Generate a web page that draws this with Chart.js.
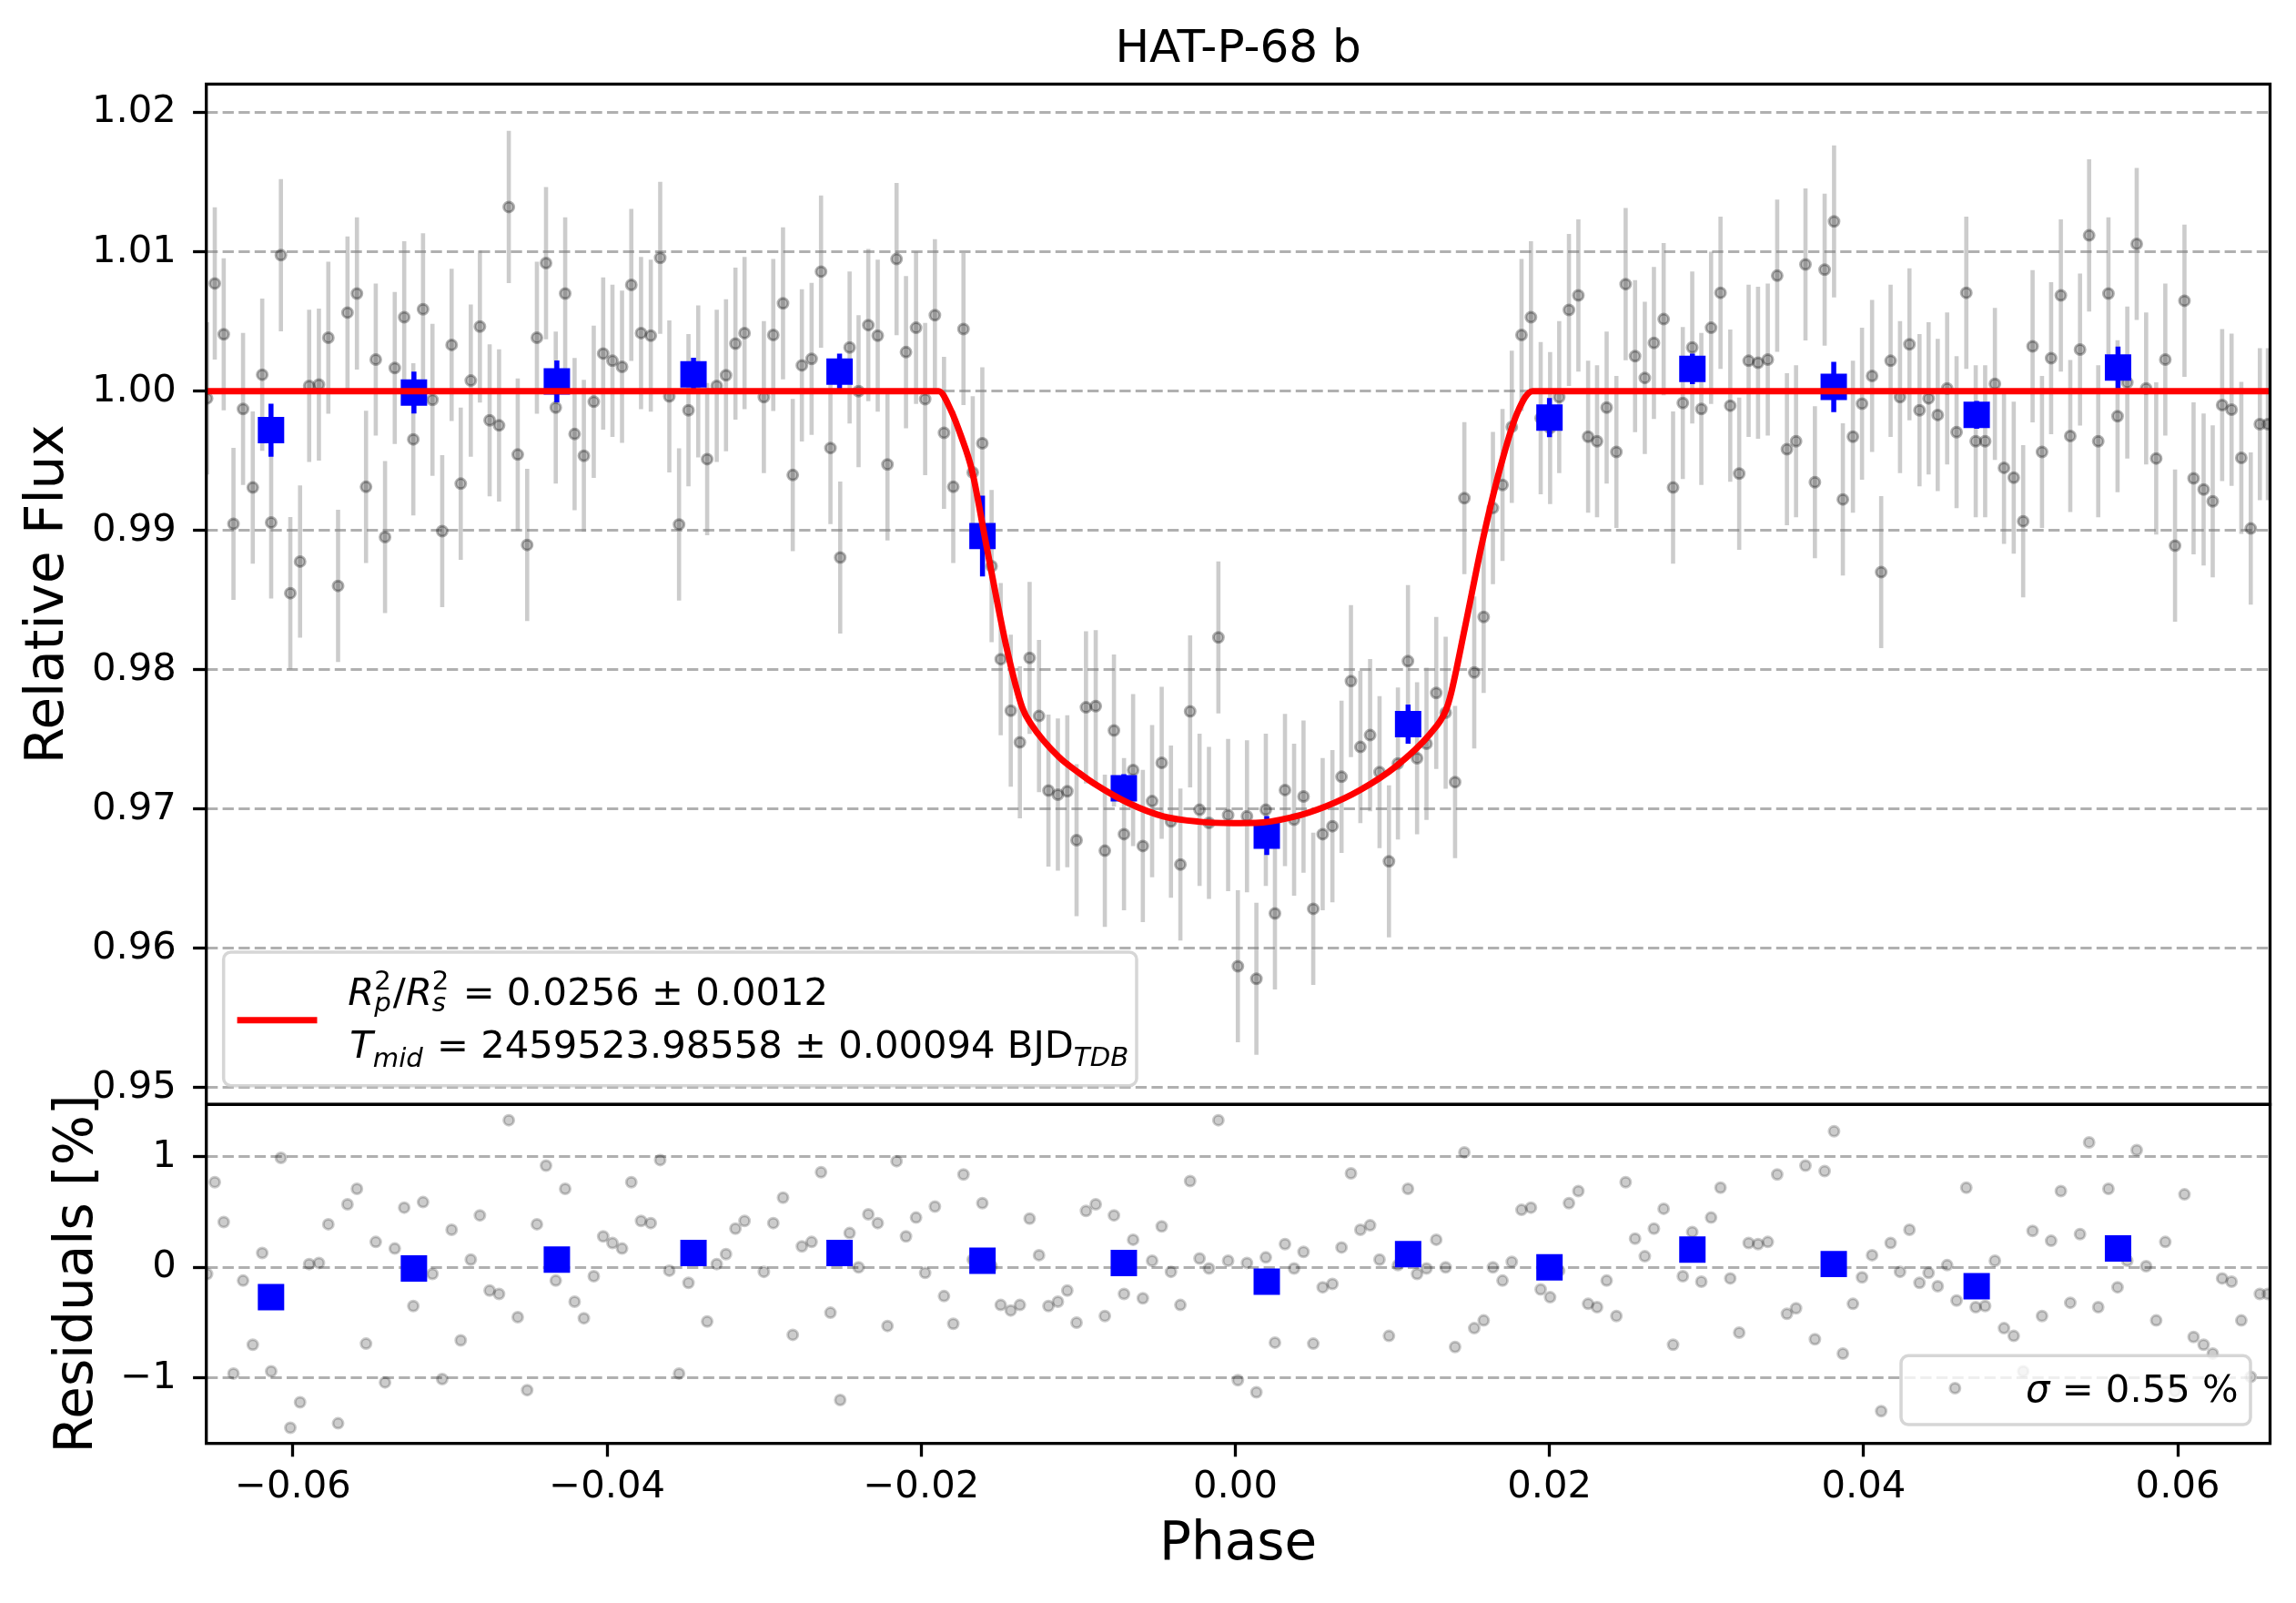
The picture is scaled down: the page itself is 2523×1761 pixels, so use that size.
<!DOCTYPE html>
<html>
<head>
<meta charset="utf-8">
<script src="https://cdn.jsdelivr.net/npm/chart.js@4.4.1/dist/chart.umd.min.js"></script>
<style>
  html, body { margin: 0; padding: 0; background: #fff; }
  #wrap { position: relative; width: 2523px; height: 1761px; overflow: hidden; }
  canvas { position: absolute; left: 0; }
  #top { top: 0; }
  #bottom { top: 1150px; }
</style>
</head>
<body>
<div id="wrap">
  <canvas id="top" width="2523" height="1264"></canvas>
  <canvas id="bottom" width="2523" height="611"></canvas>
</div>
<script>
// phase of every exposure
const phase = [
  -0.06547, -0.06498, -0.06441, -0.06379, -0.06318, -0.06256, -0.06196, -0.06139, -0.06077, -0.06017,
  -0.05955, -0.05897, -0.05835, -0.05775, -0.05713, -0.05653, -0.05593, -0.05535, -0.05473, -0.05414,
  -0.05352, -0.05292, -0.05234, -0.05172, -0.05112, -0.05050, -0.04990, -0.04932, -0.04868, -0.04810,
  -0.04748, -0.04688, -0.04626, -0.04569, -0.04509, -0.04447, -0.04389, -0.04327, -0.04267, -0.04207,
  -0.04148, -0.04085, -0.04025, -0.03966, -0.03905, -0.03846, -0.03784, -0.03722, -0.03662, -0.03604,
  -0.03542, -0.03482, -0.03420, -0.03363, -0.03302, -0.03243, -0.03183, -0.03125, -0.03002, -0.02942,
  -0.02880, -0.02818, -0.02760, -0.02698, -0.02638, -0.02578, -0.02516, -0.02456, -0.02399, -0.02337,
  -0.02277, -0.02215, -0.02157, -0.02097, -0.02033, -0.01975, -0.01913, -0.01855, -0.01796, -0.01731,
  -0.01672, -0.01611, -0.01552, -0.01494, -0.01430, -0.01372, -0.01310, -0.01250, -0.01190, -0.01130,
  -0.01070, -0.01011, -0.00951, -0.00889, -0.00831, -0.00773, -0.00709, -0.00651, -0.00589, -0.00530,
  -0.00469, -0.00410, -0.00350, -0.00288, -0.00228, -0.00168, -0.00108, -0.00046, 0.00016, 0.00074,
  0.00134, 0.00194, 0.00252, 0.00316, 0.00374, 0.00434, 0.00496, 0.00556, 0.00618, 0.00676,
  0.00736, 0.00796, 0.00858, 0.00918, 0.00978, 0.01035, 0.01099, 0.01157, 0.01217, 0.01279,
  0.01339, 0.01399, 0.01458, 0.01521, 0.01581, 0.01640, 0.01701, 0.01760, 0.01822, 0.01882,
  0.01944, 0.02004, 0.02062, 0.02124, 0.02184, 0.02246, 0.02303, 0.02364, 0.02426, 0.02485,
  0.02545, 0.02607, 0.02665, 0.02727, 0.02787, 0.02849, 0.02909, 0.02967, 0.03029, 0.03089,
  0.03151, 0.03208, 0.03268, 0.03328, 0.03390, 0.03450, 0.03512, 0.03570, 0.03630, 0.03690,
  0.03752, 0.03812, 0.03868, 0.03932, 0.03990, 0.04054, 0.04112, 0.04172, 0.04232, 0.04292,
  0.04356, 0.04414, 0.04472, 0.04532, 0.04592, 0.04654, 0.04714, 0.04774, 0.04836, 0.04894,
  0.04956, 0.05016, 0.05076, 0.05136, 0.05194, 0.05256, 0.05316, 0.05378, 0.05436, 0.05494,
  0.05559, 0.05617, 0.05679, 0.05739, 0.05799, 0.05863, 0.05921, 0.05983, 0.06043, 0.06101,
  0.06165, 0.06223, 0.06283, 0.06343, 0.06405, 0.06465, 0.06523, 0.06574
];

// detrended relative flux
const flux = [
  0.99948, 1.00773, 1.00408, 0.99047, 0.99872, 0.99308, 1.00118, 0.99057, 1.00976, 0.98550,
  0.98777, 1.00038, 1.00047, 1.00384, 0.98602, 1.00564, 1.00701, 0.99313, 1.00227, 0.98953,
  1.00166, 1.00531, 0.99654, 1.00588, 0.99938, 0.98995, 1.00332, 0.99336, 1.00076, 1.00464,
  0.99791, 0.99754, 1.01322, 0.99545, 0.98896, 1.00384, 1.00919, 0.99882, 1.00701, 0.99692,
  0.99536, 0.99924, 1.00270, 1.00218, 1.00175, 1.00763, 1.00417, 1.00398, 1.00957, 0.99962,
  0.99043, 0.99863, 1.00070, 0.99512, 1.00038, 1.00114, 1.00341, 1.00417, 0.99957, 1.00403,
  1.00630, 0.99398, 1.00185, 1.00232, 1.00858, 0.99592, 0.98806, 1.00313, 1.00000, 1.00474,
  1.00398, 0.99474, 1.00948, 1.00280, 1.00455, 0.99943, 1.00545, 0.99701, 0.99313, 1.00446,
  0.99417, 0.99626, 0.98744, 0.98076, 0.97706, 0.97479, 0.98085, 0.97668, 0.97133, 0.97104,
  0.97128, 0.96777, 0.97730, 0.97739, 0.96701, 0.97564, 0.96820, 0.97280, 0.96735, 0.97057,
  0.97332, 0.96910, 0.96602, 0.97701, 0.96995, 0.96901, 0.98232, 0.96957, 0.95872, 0.96948,
  0.95782, 0.96995, 0.96251, 0.97137, 0.96924, 0.97090, 0.96284, 0.96820, 0.96877, 0.97232,
  0.97919, 0.97446, 0.97531, 0.97265, 0.96625, 0.97327, 0.98062, 0.97365, 0.97469, 0.97834,
  0.97692, 0.97194, 0.99232, 0.97981, 0.98379, 0.99161, 0.99327, 0.99744, 1.00403, 1.00531,
  0.99806, 0.99735, 0.99957, 1.00583, 1.00687, 0.99673, 0.99640, 0.99882, 0.99564, 1.00768,
  1.00251, 1.00095, 1.00346, 1.00517, 0.99308, 0.99915, 1.00313, 0.99872, 1.00455, 1.00706,
  0.99896, 0.99408, 1.00218, 1.00204, 1.00227, 1.00829, 0.99583, 0.99640, 1.00910, 0.99346,
  1.00872, 1.01218, 0.99223, 0.99673, 0.99910, 1.00109, 0.98701, 1.00218, 0.99957, 1.00336,
  0.99863, 0.99948, 0.99829, 1.00019, 0.99706, 1.00706, 0.99640, 0.99640, 1.00052, 0.99450,
  0.99379, 0.99066, 1.00322, 0.99564, 1.00237, 1.00687, 0.99678, 1.00299, 1.01118, 0.99640,
  1.00701, 0.99820, 1.00062, 1.01057, 1.00019, 0.99517, 1.00227, 0.98891, 1.00649, 0.99374,
  0.99294, 0.99209, 0.99900, 0.99867, 0.99521, 0.99014, 0.99763, 0.99763
];
const fluxErr = 0.00546; // every exposure has the same error bar

// residuals in percent
const residual = [
  -0.06, 0.77, 0.41, -0.96, -0.12, -0.70, 0.13, -0.94, 0.99, -1.45,
  -1.22, 0.03, 0.04, 0.39, -1.41, 0.57, 0.71, -0.69, 0.23, -1.04,
  0.17, 0.54, -0.35, 0.59, -0.06, -1.01, 0.34, -0.66, 0.07, 0.47,
  -0.21, -0.24, 1.33, -0.45, -1.11, 0.39, 0.92, -0.12, 0.71, -0.31,
  -0.46, -0.08, 0.28, 0.22, 0.17, 0.77, 0.42, 0.40, 0.97, -0.03,
  -0.96, -0.14, 0.07, -0.49, 0.03, 0.12, 0.35, 0.42, -0.04, 0.40,
  0.63, -0.61, 0.19, 0.23, 0.86, -0.41, -1.20, 0.31, 0.00, 0.48,
  0.40, -0.53, 0.96, 0.28, 0.45, -0.05, 0.55, -0.26, -0.51, 0.84,
  0.07, 0.58, 0.01, -0.34, -0.39, -0.34, 0.44, 0.11, -0.35, -0.31,
  -0.21, -0.50, 0.51, 0.57, -0.44, 0.47, -0.24, 0.25, -0.28, 0.06,
  0.37, -0.04, -0.34, 0.78, 0.08, -0.01, 1.33, 0.06, -1.02, 0.04,
  -1.13, 0.09, -0.68, 0.21, -0.01, 0.14, -0.69, -0.18, -0.15, 0.18,
  0.85, 0.34, 0.38, 0.07, -0.62, 0.02, 0.71, -0.06, -0.01, 0.25,
  0.00, -0.72, 1.04, -0.55, -0.48, 0.00, -0.12, 0.05, 0.52, 0.54,
  -0.20, -0.27, -0.03, 0.58, 0.69, -0.33, -0.36, -0.12, -0.44, 0.77,
  0.26, 0.10, 0.35, 0.53, -0.70, -0.08, 0.32, -0.13, 0.45, 0.72,
  -0.10, -0.59, 0.22, 0.21, 0.23, 0.84, -0.42, -0.37, 0.92, -0.65,
  0.87, 1.23, -0.78, -0.33, -0.09, 0.11, -1.30, 0.22, -0.04, 0.34,
  -0.14, -0.05, -0.17, 0.02, -0.30, 0.72, -0.36, -0.35, 0.06, -0.55,
  -0.62, -0.94, 0.33, -0.44, 0.24, 0.69, -0.32, 0.30, 1.13, -0.36,
  0.71, -0.18, 0.06, 1.06, 0.01, -0.48, 0.23, -1.12, 0.66, -0.63,
  -0.70, -0.78, -0.10, -0.13, -0.48, -0.99, -0.24, -0.24
];

// binned points (blue squares)
const binPhase = [-0.0614, -0.0523, -0.0432, -0.0345, -0.0252, -0.0161, -0.0071, 0.0020, 0.0110, 0.0200, 0.0291, 0.0381, 0.0472, 0.0562];
const binFlux = [0.9972, 0.9999, 1.0007, 1.0012, 1.0014, 0.9896, 0.9715, 0.9681, 0.9761, 0.9981, 1.0016, 1.0003, 0.9983, 1.0017];
const binErr = [0.0019, 0.0015, 0.0015, 0.0012, 0.0013, 0.0029, 0.0010, 0.0014, 0.0014, 0.0014, 0.0011, 0.0018, 0.0010, 0.0015];
const binResid = [-0.27, -0.01, 0.07, 0.13, 0.13, 0.06, 0.04, -0.13, 0.12, 0.00, 0.16, 0.03, -0.17, 0.17];

// transit model (red curve)
const modelPhase = [-0.06552, -0.01889, -0.01811, -0.01745, -0.01678, -0.01589, -0.01456, -0.01357, -0.01301, -0.01124,
  -0.00991, -0.00902, -0.00680, -0.00458, -0.00237, -0.00015, 0.00130, 0.00352, 0.00574, 0.00796,
  0.01018, 0.01240, 0.01339, 0.01372, 0.01461, 0.01572, 0.01683, 0.01793, 0.01893, 0.06588];
const modelFlux = [1.0, 1.0, 0.99863, 0.99673, 0.99436, 0.98915, 0.98156, 0.97730, 0.97611, 0.97374,
  0.97256, 0.97185, 0.97043, 0.96948, 0.96910, 0.96900, 0.96901, 0.96939, 0.97019, 0.97138,
  0.97303, 0.97540, 0.97706, 0.97825, 0.98299, 0.98915, 0.99436, 0.99839, 1.0, 1.0];

// ticks
const phaseTicks = [-0.06, -0.04, -0.02, 0.0, 0.02, 0.04, 0.06];
const fluxTicks = [0.95, 0.96, 0.97, 0.98, 0.99, 1.00, 1.01, 1.02];
const residTicks = [-1, 0, 1];

const X_MIN = -0.06552, X_MAX = 0.06588;
const FONT = '"DejaVu Sans"';
const TICK_SIZE = 41.7, LABEL_SIZE = 58;
const AXIS_W = 226.7;
const BOTTOM_TOP = 1150; // page y of the lower canvas

Chart.defaults.font.family = FONT;
Chart.defaults.color = '#000';

const minus = (s) => s.replace('-', '\u2212');

// vertical error bars, drawn just before the dataset's markers
const errorBars = {
  id: 'errorBars',
  beforeDatasetDraw(chart, args) {
    const ds = chart.data.datasets[args.index];
    if (!ds.errors) return;
    const { ctx, chartArea: a, scales: { x, y } } = chart;
    ctx.save();
    ctx.beginPath();
    ctx.rect(a.left, a.top, a.right - a.left, a.bottom - a.top);
    ctx.clip();
    ctx.strokeStyle = ds.errorColor;
    ctx.lineWidth = ds.errorWidth;
    ds.data.forEach((p, i) => {
      const px = x.getPixelForValue(p.x);
      ctx.beginPath();
      ctx.moveTo(px, y.getPixelForValue(p.y - ds.errors[i]));
      ctx.lineTo(px, y.getPixelForValue(p.y + ds.errors[i]));
      ctx.stroke();
    });
    ctx.restore();
  }
};

// black box round each panel
const frame = {
  id: 'frame',
  afterDatasetsDraw(chart) {
    const { ctx, chartArea: a } = chart;
    ctx.save();
    ctx.strokeStyle = '#000';
    ctx.lineWidth = 3.3;
    ctx.strokeRect(a.left, a.top, a.right - a.left, a.bottom - a.top);
    ctx.restore();
  }
};

// small mathtext-like writer: runs of normal / italic text with sub- and superscripts
function mathFont(size, italic) {
  return (italic ? 'italic ' : '') + size + 'px ' + FONT;
}
function drawRuns(ctx, x, y, runs, size) {
  const small = size * 0.7;
  runs.forEach(r => {
    if (r.sub !== undefined || r.sup !== undefined) {
      let w = 0;
      if (r.sub) {
        ctx.font = mathFont(small, true);
        ctx.fillText(r.sub, x, y + r.dy);
        w = Math.max(w, ctx.measureText(r.sub).width);
      }
      if (r.sup) {
        ctx.font = mathFont(small, false);
        ctx.fillText(r.sup, x, y - 17);
        w = Math.max(w, ctx.measureText(r.sup).width);
      }
      x += w + 2;
    } else {
      ctx.font = mathFont(size, r.it);
      ctx.fillText(r.t, x, y);
      x += ctx.measureText(r.t).width;
    }
  });
}

function legendBox(ctx, x0, y0, x1, y1) {
  ctx.save();
  ctx.fillStyle = 'rgba(255,255,255,0.8)';
  ctx.strokeStyle = 'rgba(204,204,204,0.8)';
  ctx.lineWidth = 3.5;
  ctx.beginPath();
  ctx.roundRect(x0, y0, x1 - x0, y1 - y0, 8);
  ctx.fill();
  ctx.stroke();
  ctx.restore();
}

const topExtras = {
  id: 'topExtras',
  afterDraw(chart) {
    const { ctx, chartArea: a } = chart;
    ctx.save();
    // title
    ctx.fillStyle = '#000';
    ctx.font = '50px ' + FONT;
    ctx.textAlign = 'center';
    ctx.textBaseline = 'alphabetic';
    ctx.fillText('HAT-P-68 b', (a.left + a.right) / 2, 67.7);
    // legend, lower left
    legendBox(ctx, 245.7, 1046, 1249, 1192.7);
    ctx.strokeStyle = 'red';
    ctx.lineWidth = 7;
    ctx.beginPath();
    ctx.moveTo(260.6, 1120.7);
    ctx.lineTo(348.5, 1120.7);
    ctx.stroke();
    ctx.fillStyle = '#000';
    ctx.textAlign = 'left';
    drawRuns(ctx, 382.3, 1104, [
      { t: 'R', it: true }, { sub: 'p', sup: '2', dy: 7 }, { t: '/' },
      { t: 'R', it: true }, { sub: 's', sup: '2', dy: 7 },
      { t: ' = 0.0256 \u00b1 0.0012' }
    ], TICK_SIZE);
    drawRuns(ctx, 384.3, 1161.7, [
      { t: 'T', it: true }, { sub: 'mid', dy: 10 },
      { t: ' = 2459523.98558 \u00b1 0.00094 BJD' }, { sub: 'TDB', dy: 9 }
    ], TICK_SIZE);
    ctx.restore();
  }
};

const bottomExtras = {
  id: 'bottomExtras',
  afterDraw(chart) {
    const { ctx } = chart;
    const off = BOTTOM_TOP;
    ctx.save();
    legendBox(ctx, 2089, 1489.3 - off, 2473, 1565 - off);
    ctx.fillStyle = 'rgba(0,0,0,0.2)';
    ctx.strokeStyle = 'rgba(0,0,0,0.2)';
    ctx.lineWidth = 3;
    ctx.beginPath();
    ctx.arc(2148.3, 1525 - off, 5.5, 0, Math.PI * 2);
    ctx.fill();
    ctx.stroke();
    ctx.fillStyle = '#000';
    ctx.textAlign = 'left';
    ctx.textBaseline = 'alphabetic';
    drawRuns(ctx, 2226, 1540 - off, [{ t: '\u03c3', it: true }, { t: ' = 0.55 %' }], TICK_SIZE);
    ctx.restore();
  }
};

function yScale(min, max, ticks, fmt, title, titlePad) {
  return {
    type: 'linear',
    min: min,
    max: max,
    afterFit(s) { s.width = AXIS_W; },
    afterBuildTicks(s) { s.ticks = ticks.map(v => ({ value: v })); },
    ticks: { font: { size: TICK_SIZE }, color: '#000', padding: 18.4, callback: fmt },
    grid: { color: '#b0b0b0', lineWidth: 3, drawTicks: true, tickLength: 14.6, tickWidth: 3.3, tickColor: '#000' },
    border: { display: false, dash: [12.3, 5.3] },
    title: { display: true, text: title, color: '#000', font: { size: LABEL_SIZE }, padding: { top: titlePad, bottom: 0 } }
  };
}

const pts = phase.map((p, i) => ({ x: p, y: flux[i] }));
const resPts = phase.map((p, i) => ({ x: p, y: residual[i] }));
const binPts = binPhase.map((p, i) => ({ x: p, y: binFlux[i] }));
const binResPts = binPhase.map((p, i) => ({ x: p, y: binResid[i] }));
const modelPts = modelPhase.map((p, i) => ({ x: p, y: modelFlux[i] }));

new Chart(document.getElementById('top'), {
  type: 'scatter',
  data: {
    datasets: [
      {
        type: 'line', data: modelPts, order: 0,
        borderColor: 'red', borderWidth: 7, pointRadius: 0, fill: false,
        cubicInterpolationMode: 'monotone'
      },
      {
        data: binPts, order: 1,
        pointStyle: 'rect', pointRadius: 20.5, backgroundColor: 'blue', borderColor: 'blue', borderWidth: 0,
        errors: binErr, errorColor: 'blue', errorWidth: 5.5
      },
      {
        data: pts, order: 2,
        pointRadius: 5.5, borderWidth: 3,
        backgroundColor: 'rgba(0,0,0,0.25)', borderColor: 'rgba(0,0,0,0.3)',
        errors: phase.map(() => fluxErr), errorColor: 'rgba(128,128,128,0.4)', errorWidth: 4.6
      }
    ]
  },
  options: {
    responsive: false,
    animation: false,
    devicePixelRatio: 1,
    layout: { padding: { left: 0, right: 28.5, top: 92.4, bottom: 50.7 } },
    plugins: { legend: { display: false }, tooltip: { enabled: false } },
    scales: {
      x: { type: 'linear', min: X_MIN, max: X_MAX, display: false },
      y: yScale(0.9488, 1.02204, fluxTicks, v => v.toFixed(2), 'Relative Flux', 19.2)
    }
  },
  plugins: [errorBars, frame, topExtras]
});

new Chart(document.getElementById('bottom'), {
  type: 'scatter',
  data: {
    datasets: [
      {
        data: binResPts, order: 0,
        pointStyle: 'rect', pointRadius: 20.5, backgroundColor: 'blue', borderColor: 'blue', borderWidth: 0
      },
      {
        data: resPts, order: 1,
        pointRadius: 5.5, borderWidth: 3,
        backgroundColor: 'rgba(0,0,0,0.2)', borderColor: 'rgba(0,0,0,0.2)'
      }
    ]
  },
  options: {
    responsive: false,
    animation: false,
    devicePixelRatio: 1,
    layout: { padding: { left: 0, right: 28.5, top: 1213.3 - BOTTOM_TOP, bottom: 0 } },
    plugins: { legend: { display: false }, tooltip: { enabled: false } },
    scales: {
      x: {
        type: 'linear', min: X_MIN, max: X_MAX,
        afterFit(s) { s.height = 175.3; },
        afterBuildTicks(s) { s.ticks = phaseTicks.map(v => ({ value: v })); },
        ticks: {
          font: { size: TICK_SIZE }, color: '#000', padding: 8.9, maxRotation: 0, autoSkip: false,
          callback: v => Math.abs(v) < 1e-9 ? '0.00' : minus(v.toFixed(2))
        },
        grid: { drawOnChartArea: false, drawTicks: true, tickLength: 14.6, tickWidth: 3.3, tickColor: '#000' },
        border: { display: false },
        title: { display: true, text: 'Phase', color: '#000', font: { size: LABEL_SIZE }, padding: { top: 0, bottom: 28.2 } }
      },
      y: yScale(-1.592, 1.473, residTicks, v => minus(String(Math.round(v))), 'Residuals [%]', 51)
    }
  },
  plugins: [frame, bottomExtras]
});
</script>
</body>
</html>
